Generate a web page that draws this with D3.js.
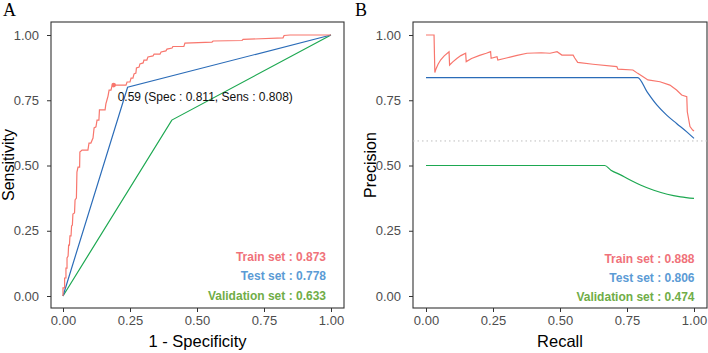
<!DOCTYPE html>
<html>
<head>
<meta charset="utf-8">
<script src="https://cdn.jsdelivr.net/npm/d3@7"></script>
<style>
  body { margin: 0; background: #fff; }
  svg { display: block; font-family: "Liberation Sans", Arial, sans-serif; }
</style>
</head>
<body>
<div id="container"></div>
<script>
// roc curves (1 - specificity, sensitivity)
var rocTrainFpr = [0,0,0.006,0.006,0.011,0.011,0.015,0.015,0.019,0.021,0.024,0.026,0.030,0.032,0.035,0.037,0.043,0.045,0.050,0.052,0.056,0.062,0.063,0.071,0.093,0.097,0.104,0.112,0.116,0.123,0.127,0.134,0.136,0.157,0.160,0.164,0.168,0.172,0.179,0.183,0.189,0.235,0.239,0.250,0.254,0.261,0.265,0.272,0.274,0.284,0.287,0.299,0.302,0.313,0.317,0.336,0.340,0.362,0.366,0.384,0.388,0.407,0.410,0.451,0.455,0.556,0.560,0.668,0.672,0.821,0.825,0.847,1];
var rocTrainTpr = [0,0.031,0.031,0.069,0.069,0.107,0.107,0.146,0.153,0.195,0.195,0.230,0.230,0.268,0.272,0.314,0.318,0.368,0.375,0.475,0.494,0.494,0.552,0.559,0.559,0.586,0.586,0.605,0.644,0.648,0.674,0.674,0.713,0.713,0.736,0.751,0.766,0.789,0.789,0.805,0.808,0.808,0.820,0.820,0.835,0.835,0.851,0.854,0.874,0.877,0.889,0.893,0.904,0.904,0.916,0.920,0.927,0.927,0.935,0.939,0.946,0.950,0.956,0.956,0.969,0.973,0.977,0.979,0.983,0.989,0.998,1,1];
var rocTestFpr = [0,0.241,1];
var rocTestTpr = [0,0.800,1];
var rocValFpr = [0,0.406,1];
var rocValTpr = [0,0.674,1];

// best threshold on train curve
var cutFpr = 0.189, cutTpr = 0.808;
var cutLabel = "0.59 (Spec : 0.811, Sens : 0.808)";

// precision-recall curves
var prTrainRec = [0,0.03,0.033,0.038,0.045,0.055,0.068,0.086,0.088,0.1,0.115,0.13,0.148,0.15,0.17,0.2,0.225,0.241,0.243,0.265,0.268,0.3,0.34,0.377,0.43,0.463,0.489,0.507,0.549,0.555,0.566,0.623,0.712,0.716,0.772,0.79,0.81,0.828,0.873,0.91,0.935,0.954,0.973,0.975,0.985,0.995,1];
var prTrainPrec = [1,1,0.856,0.872,0.888,0.905,0.92,0.936,0.885,0.897,0.91,0.921,0.93,0.898,0.91,0.922,0.93,0.936,0.911,0.917,0.904,0.912,0.922,0.93,0.932,0.93,0.936,0.923,0.923,0.912,0.895,0.888,0.879,0.869,0.866,0.853,0.84,0.828,0.821,0.808,0.789,0.77,0.764,0.706,0.649,0.636,0.632];
var prTestRec = [0,0.79,0.825,0.862,0.898,0.935,0.973,1];
var prTestPrec = [0.837,0.837,0.782,0.731,0.693,0.661,0.629,0.604];
var prValRec = [0,0.667,0.69,0.726,0.751,0.8,0.85,0.9,0.95,1];
var prValPrec = [0.5,0.5,0.482,0.464,0.45,0.425,0.405,0.39,0.38,0.374];
var prBaseline = 0.594;

var ticks = [0, 0.25, 0.5, 0.75, 1];
var rocLegend = ["Train set : 0.873", "Test set : 0.778", "Validation set : 0.633"];
var prLegend = ["Train set : 0.888", "Test set : 0.806", "Validation set : 0.474"];

(function(){

  var width = 708, height = 353
  var lineColors = ["#F8766D", "#2B6CB8", "#1DA851"]
  var textColors = ["#F0727A", "#5B9BD5", "#70AD47"]

  var svg = d3.select("#container")
    .append("svg")
      .attr("width", width)
      .attr("height", height)

  function zip(xs, ys){
    return xs.map(function(x, i){ return [x, ys[i]] })
  }

  function panel(opt){
    var x = d3.scaleLinear().domain([0, 1]).range([opt.x0, opt.x1])
    var y = d3.scaleLinear().domain([0, 1]).range([296, 35])
    var g = svg.append("g")

    // axes
    g.append("g")
      .attr("transform", "translate(0," + opt.boxBottom + ")")
      .call(d3.axisBottom(x).tickValues(ticks).tickSize(4).tickPadding(4)
        .tickFormat(d3.format(".2f")))
    g.append("g")
      .attr("transform", "translate(" + opt.boxLeft + ",0)")
      .call(d3.axisLeft(y).tickValues(ticks).tickSize(4).tickPadding(8)
        .tickFormat(d3.format(".2f")))
    g.selectAll(".domain").remove()
    g.selectAll(".tick line").attr("stroke", "#333")
    g.selectAll(".tick text")
      .attr("fill", "#4D4D4D")
      .style("font-size", "13px")
      .style("font-family", "Liberation Sans, Arial, sans-serif")

    // panel border
    g.append("rect")
      .attr("x", opt.boxLeft)
      .attr("y", 22)
      .attr("width", opt.boxRight - opt.boxLeft)
      .attr("height", opt.boxBottom - 22)
      .attr("fill", "none")
      .attr("stroke", "#333")
      .attr("stroke-width", 1.1)

    var line = d3.line()
      .x(function(d){ return x(d[0]) })
      .y(function(d){ return y(d[1]) })
    var smoothLine = d3.line()
      .curve(d3.curveMonotoneX)
      .x(function(d){ return x(d[0]) })
      .y(function(d){ return y(d[1]) })

    if (opt.baseline != null) {
      g.append("line")
        .attr("x1", opt.boxLeft).attr("x2", opt.boxRight)
        .attr("y1", y(opt.baseline)).attr("y2", y(opt.baseline))
        .attr("stroke", "#BDBDBD")
        .attr("stroke-dasharray", "1.5,3")
    }

    // draw validation first so train ends on top
    opt.series.slice().reverse().forEach(function(s, j){
      var i = opt.series.length - 1 - j
      var gen = (opt.smooth && i > 0) ? smoothLine : line
      g.append("path")
        .datum(s)
        .attr("d", gen)
        .attr("fill", "none")
        .attr("stroke", lineColors[i])
        .attr("stroke-width", 1.2)
    })

    // legend text in corner
    opt.legend.forEach(function(t, i){
      g.append("text")
        .attr("x", opt.legendX)
        .attr("y", opt.legendY[i])
        .attr("text-anchor", "end")
        .attr("fill", textColors[i])
        .style("font-size", "12px")
        .style("font-weight", "bold")
        .text(t)
    })

    // axis titles
    g.append("text")
      .attr("x", (opt.boxLeft + opt.boxRight) / 2)
      .attr("y", 346.5)
      .attr("text-anchor", "middle")
      .style("font-size", "16.5px")
      .text(opt.xTitle)
    g.append("text")
      .attr("transform", "translate(" + opt.yTitleX + ",165) rotate(-90)")
      .attr("text-anchor", "middle")
      .style("font-size", "16px")
      .text(opt.yTitle)

    // panel letter
    g.append("text")
      .attr("x", opt.letterX)
      .attr("y", 15.5)
      .style("font-family", "Liberation Serif, Times New Roman, serif")
      .style("font-size", "18px")
      .text(opt.letter)

    return { g: g, x: x, y: y }
  }

  var a = panel({
    x0: 63, x1: 331, boxLeft: 51, boxRight: 344, boxBottom: 308,
    series: [zip(rocTrainFpr, rocTrainTpr), zip(rocTestFpr, rocTestTpr), zip(rocValFpr, rocValTpr)],
    legend: rocLegend, legendX: 326, legendY: [260.5, 279.5, 299.5],
    xTitle: "1 - Specificity", yTitle: "Sensitivity", yTitleX: 14,
    letter: "A", letterX: 3
  })

  // cut-off point and label
  a.g.append("circle")
    .attr("cx", a.x(cutFpr))
    .attr("cy", a.y(cutTpr))
    .attr("r", 2.3)
    .attr("fill", lineColors[0])
  a.g.append("text")
    .attr("x", a.x(cutFpr) + 4)
    .attr("y", a.y(cutTpr) + 16)
    .style("font-size", "12px")
    .attr("fill", "#111")
    .text(cutLabel)

  panel({
    x0: 426, x1: 694, boxLeft: 413, boxRight: 707, boxBottom: 308,
    series: [zip(prTrainRec, prTrainPrec), zip(prTestRec, prTestPrec), zip(prValRec, prValPrec)],
    legend: prLegend, legendX: 694.5, legendY: [262.5, 281.5, 301],
    xTitle: "Recall", yTitle: "Precision", yTitleX: 376,
    letter: "B", letterX: 355,
    baseline: prBaseline, smooth: true
  })

})()
</script>
</body>
</html>
